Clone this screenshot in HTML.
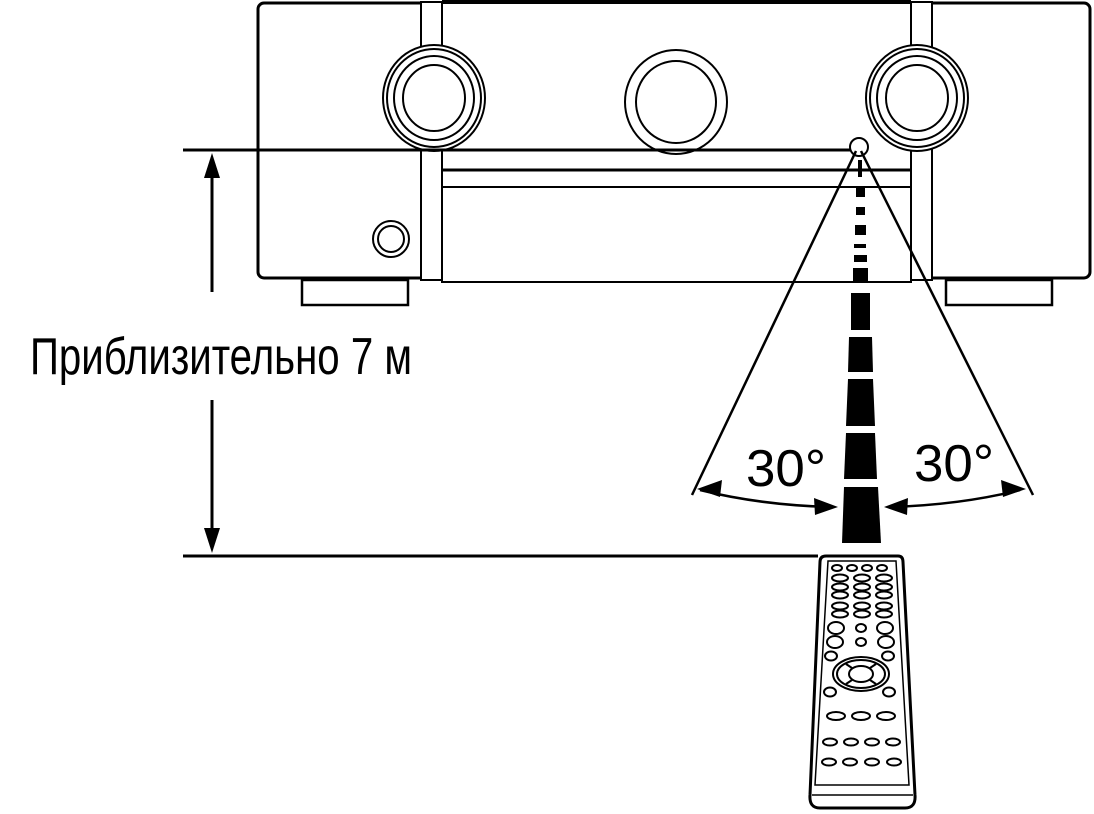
<!DOCTYPE html>
<html><head><meta charset="utf-8"><style>html,body{margin:0;padding:0;background:#fff}svg{display:block}</style></head>
<body>
<svg width="1094" height="814" viewBox="0 0 1094 814" xmlns="http://www.w3.org/2000/svg" fill="none" stroke="#000">
<!-- receiver -->
<rect x="258" y="3" width="832" height="275" rx="6" stroke-width="3"/>
<rect x="421" y="2" width="21" height="278" fill="#fff" stroke-width="2"/>
<rect x="911" y="2" width="21" height="278" fill="#fff" stroke-width="2"/>
<rect x="442" y="2" width="469" height="280" fill="#fff" stroke-width="2"/>
<line x1="442" y1="2" x2="911" y2="2" stroke-width="4"/>
<line x1="442" y1="170" x2="911" y2="170" stroke-width="3"/>
<line x1="442" y1="187" x2="911" y2="187" stroke-width="2"/>
<!-- knobs -->
<g stroke-width="2">
<ellipse cx="434" cy="98" rx="51" ry="53" fill="#fff"/>
<ellipse cx="434" cy="98" rx="47" ry="49"/>
<ellipse cx="434" cy="98" rx="40" ry="42"/>
<ellipse cx="434" cy="98" rx="31" ry="33"/>
<ellipse cx="676" cy="102" rx="51" ry="52" fill="#fff"/>
<ellipse cx="676" cy="102" rx="40" ry="41"/>
<ellipse cx="917" cy="98" rx="51" ry="53" fill="#fff"/>
<ellipse cx="917" cy="98" rx="47" ry="49"/>
<ellipse cx="917" cy="98" rx="40" ry="42"/>
<ellipse cx="917" cy="98" rx="31" ry="33"/>
<circle cx="391" cy="239" r="18"/>
<circle cx="391" cy="239" r="13"/>
</g>
<!-- feet -->
<g stroke-width="2.5" fill="#fff">
<rect x="302" y="280" width="106" height="25"/>
<rect x="946" y="280" width="106" height="25"/>
</g>
<!-- sensor & reference lines -->
<line x1="183" y1="150" x2="850" y2="150" stroke-width="3" stroke="#000"/>
<circle cx="859" cy="147" r="9" fill="#fff" stroke-width="2"/>
<line x1="183" y1="556" x2="818" y2="556" stroke-width="3"/>
<!-- vertical arrow -->
<line x1="212" y1="170" x2="212" y2="292" stroke-width="3"/>
<line x1="212" y1="400" x2="212" y2="535" stroke-width="3"/>
<polygon points="212,153 204,178 220,178" fill="#000" stroke="none"/>
<polygon points="212,553 204,528 220,528" fill="#000" stroke="none"/>
<text x="30" y="374" font-family="Liberation Sans, sans-serif" font-size="52" fill="#000" stroke="none" textLength="382" lengthAdjust="spacingAndGlyphs">Приблизительно 7 м</text>
<!-- fan lines -->
<line x1="856" y1="151" x2="692" y2="495" stroke-width="2.5"/>
<line x1="861" y1="151" x2="1033" y2="495" stroke-width="2.5"/>
<!-- beam dashes -->
<g fill="#000" stroke="none">
<polygon points="858,160 862,160 862,177 858,177"/>
<polygon points="856,187 865,187 865,197 856,197"/>
<polygon points="856,207 865,207 865,215 856,215"/>
<polygon points="855,225 866,225 866,235 855,235"/>
<polygon points="854,244 866,244 866,248 854,248"/>
<polygon points="854,255 867,255 867,262 854,262"/>
<polygon points="853,268 868,268 868,283 853,283"/>
<polygon points="851,293 870,293 870,330 851,330"/>
<polygon points="849,337 872,337 873,372 848,372"/>
<polygon points="848,379 873,379 875,426 846,426"/>
<polygon points="846,433 875,433 877,479 844,479"/>
<polygon points="844,487 878,487 881,543 842,543"/>
</g>
<!-- angle arcs -->
<path d="M700,490 Q760,505 830,507" stroke-width="2.5"/>
<polygon points="697,489 722,480 720,497" fill="#000" stroke="none"/>
<polygon points="838,507 814,498 815,515" fill="#000" stroke="none"/>
<path d="M890,507 Q960,505 1020,490" stroke-width="2.5"/>
<polygon points="884,507 908,498 907,515" fill="#000" stroke="none"/>
<polygon points="1026,489 1001,480 1003,497" fill="#000" stroke="none"/>
<g font-family="Liberation Sans, sans-serif" font-size="52" fill="#000" stroke="none">
<text x="746" y="486" textLength="80" lengthAdjust="spacingAndGlyphs">30°</text>
<text x="914" y="481" textLength="80" lengthAdjust="spacingAndGlyphs">30°</text>
</g>
<!-- remote -->
<path d="M826,556 L898,556 Q903,556 903,562 L915,795 Q916,808 905,808 L820,808 Q809,808 810,795 L820,562 Q820,556 826,556 Z" fill="#fff" stroke-width="3"/>
<path d="M828,561 L896,561 L909,785 L815,785 Z" stroke-width="1.5"/>
<line x1="812" y1="795" x2="913" y2="795" stroke-width="1.5"/>
<g stroke-width="2">
<ellipse cx="837" cy="568" rx="5" ry="3"/><ellipse cx="852" cy="568" rx="5" ry="3"/><ellipse cx="867" cy="568" rx="5" ry="3"/><ellipse cx="882" cy="568" rx="5" ry="3"/>
<g>
<ellipse cx="840" cy="578" rx="8" ry="3.5"/><ellipse cx="862" cy="578" rx="8" ry="3.5"/><ellipse cx="884" cy="578" rx="8" ry="3.5"/>
<ellipse cx="840" cy="587" rx="8" ry="3.5"/><ellipse cx="862" cy="587" rx="8" ry="3.5"/><ellipse cx="884" cy="587" rx="8" ry="3.5"/>
<ellipse cx="840" cy="595" rx="8" ry="3.5"/><ellipse cx="862" cy="595" rx="8" ry="3.5"/><ellipse cx="884" cy="595" rx="8" ry="3.5"/>
<ellipse cx="840" cy="606" rx="8" ry="3.5"/><ellipse cx="862" cy="606" rx="8" ry="3.5"/><ellipse cx="884" cy="606" rx="8" ry="3.5"/>
<ellipse cx="840" cy="614" rx="8" ry="3.5"/><ellipse cx="862" cy="614" rx="8" ry="3.5"/><ellipse cx="884" cy="614" rx="8" ry="3.5"/>
</g>
<ellipse cx="836" cy="628" rx="8" ry="6"/><ellipse cx="861" cy="628" rx="5" ry="4"/><ellipse cx="885" cy="628" rx="8" ry="6"/>
<ellipse cx="835" cy="642" rx="8" ry="6"/><ellipse cx="861" cy="642" rx="5" ry="4"/><ellipse cx="886" cy="642" rx="8" ry="6"/>
<ellipse cx="831" cy="656" rx="6" ry="4.5"/><ellipse cx="888" cy="656" rx="6" ry="4.5"/>
<ellipse cx="861" cy="674" rx="28" ry="17"/>
<ellipse cx="861" cy="674" rx="24" ry="14"/>
<ellipse cx="861" cy="674" rx="12" ry="8"/>
<line x1="846" y1="664" x2="852" y2="668"/><line x1="876" y1="664" x2="870" y2="668"/>
<line x1="846" y1="684" x2="852" y2="680"/><line x1="876" y1="684" x2="870" y2="680"/>
<ellipse cx="830" cy="692" rx="6" ry="4.5"/><ellipse cx="889" cy="692" rx="6" ry="4.5"/>
<ellipse cx="836" cy="716" rx="9" ry="4"/><ellipse cx="861" cy="716" rx="9" ry="4"/><ellipse cx="886" cy="716" rx="9" ry="4"/>
<ellipse cx="830" cy="742" rx="7" ry="3.5"/><ellipse cx="851" cy="742" rx="7" ry="3.5"/><ellipse cx="872" cy="742" rx="7" ry="3.5"/><ellipse cx="893" cy="742" rx="7" ry="3.5"/>
<ellipse cx="829" cy="762" rx="7" ry="3.5"/><ellipse cx="850" cy="762" rx="7" ry="3.5"/><ellipse cx="872" cy="762" rx="7" ry="3.5"/><ellipse cx="894" cy="762" rx="7" ry="3.5"/>
</g>
</svg>
</body></html>
